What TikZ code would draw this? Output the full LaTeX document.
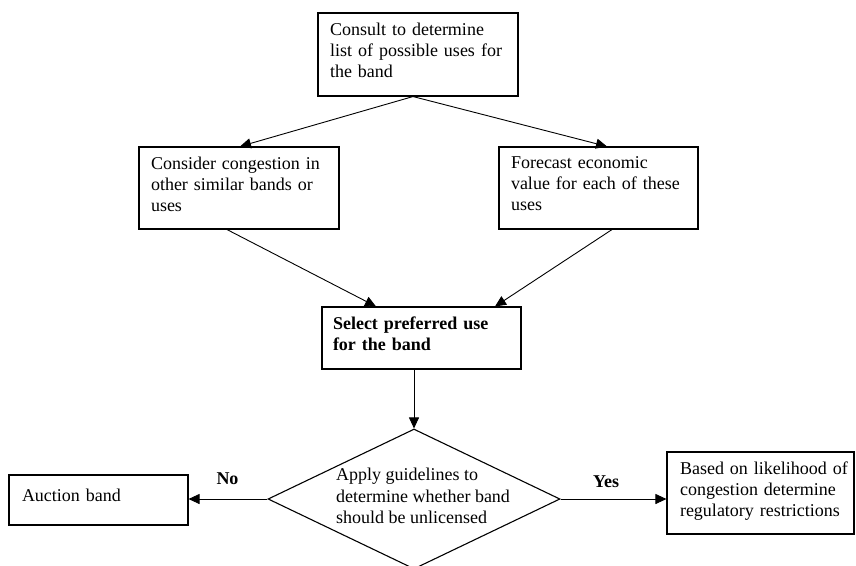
\documentclass[tikz,border=0pt]{standalone}
\usepackage{fontspec}
\setmainfont{Liberation Serif}
\usetikzlibrary{arrows.meta,shapes.geometric}
\newcommand{\lowstrut}[1]{\rule[-#1]{0pt}{#1}}
\begin{document}
\begin{tikzpicture}[x=1pt,y=-1pt,
  box/.style={draw, line width=1.1pt, rectangle, inner xsep=12pt, inner ysep=0pt,
    align=left, font=\fontsize{18}{21}\selectfont},
  conn/.style={line width=0.9pt, -{Triangle[length=11pt,width=10pt]}},
  lbl/.style={font=\fontsize{18}{21}\selectfont\bfseries, inner sep=0pt},
  dtxt/.style={font=\fontsize{18}{21.5}\selectfont, align=left, inner sep=0pt}]
\fill[white] (0,0) rectangle (856,565);
\useasboundingbox (0,0) rectangle (856,565);

\node[box, minimum width=200pt, minimum height=83pt, text width=176pt] (top) at (418,54.5)
  {Consult to determine\\list of possible uses for\\the band\lowstrut{8pt}};
\node[box, minimum width=200pt, minimum height=82pt, text width=176pt] (left) at (239,188)
  {Consider congestion in\\other similar bands or\\uses\lowstrut{8pt}};
\node[box, minimum width=199pt, minimum height=82pt, text width=175pt, inner xsep=12pt] (right) at (598.5,188)
  {Forecast economic\\value for each of these\\uses\lowstrut{8pt}};
\node[box, minimum width=199pt, minimum height=62pt, text width=177pt, inner xsep=11pt] (mid) at (421.5,338)
  {\bfseries Select preferred use\\\bfseries for the band\lowstrut{8pt}};
\node[draw, diamond, line width=1.1pt, minimum width=292pt, minimum height=140pt, inner sep=0pt] (dec) at (414,499) {};
\node[dtxt] (dtext) at (423,496) {Apply guidelines to\\determine whether band\\should be unlicensed};
\node[box, minimum width=179pt, minimum height=50pt, text width=153pt, inner xsep=13pt] (auction) at (98.5,500)
  {Auction band\lowstrut{9pt}};
\node[box, minimum width=187pt, minimum height=82pt, text width=161pt, inner xsep=13pt] (br) at (760.5,493)
  {\mbox{Based on likelihood of}\\\mbox{congestion determine}\\\mbox{regulatory restrictions}\lowstrut{7pt}};

\node[lbl, anchor=base] (no) at (227.5,484) {No};
\node[lbl, anchor=base] (yes) at (606,487) {Yes};

\draw[conn] ([xshift=-5pt]top.south) -- ([xshift=1pt]left.north);
\draw[conn] ([xshift=-5pt]top.south) -- ([xshift=8.5pt]right.north);
\draw[conn] ([xshift=-12pt]left.south) -- ([xshift=-45.5pt]mid.north);
\draw[conn] ([xshift=13.5pt]right.south) -- ([xshift=73.5pt]mid.north);
\draw[conn] ([xshift=-7.5pt]mid.south) -- (dec.north);
\draw[conn] (dec.west) -- (dec.west -| auction.east);
\draw[conn] (dec.east) -- (dec.east -| br.west);
\end{tikzpicture}
\end{document}
